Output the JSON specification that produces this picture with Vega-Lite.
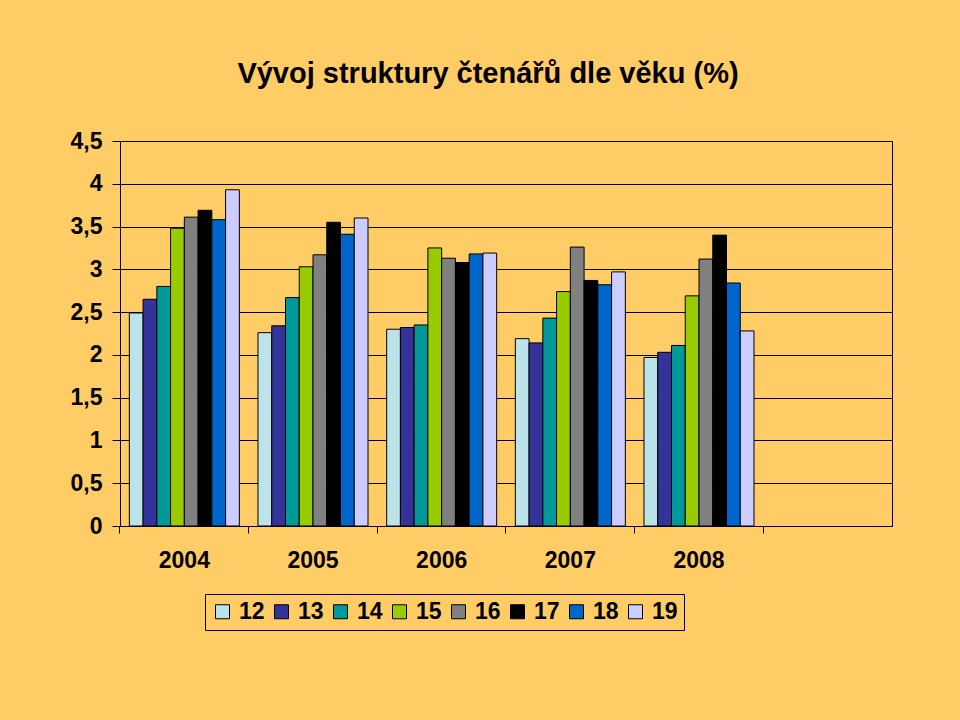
{
  "$schema": "https://vega.github.io/schema/vega-lite/v6.json",
  "autosize": {"type": "none"},
  "width": 772,
  "height": 385,
  "padding": {"left": 120, "top": 141, "right": 68, "bottom": 194},
  "background": "#FFCC66",
  "config": {
    "font": "Liberation Sans",
    "view": {"stroke": "#000000", "strokeWidth": 1}
  },
  "title": {
    "text": "Vývoj struktury čtenářů dle věku (%)",
    "font": "Liberation Sans",
    "fontSize": 29,
    "fontWeight": "bold",
    "color": "#000000",
    "anchor": "middle",
    "frame": "group",
    "dx": -18,
    "offset": 41
  },
  "data": {
    "values": [
      {"year": "2004", "age": "12", "value": 2.49},
      {"year": "2004", "age": "13", "value": 2.65},
      {"year": "2004", "age": "14", "value": 2.80},
      {"year": "2004", "age": "15", "value": 3.48},
      {"year": "2004", "age": "16", "value": 3.61},
      {"year": "2004", "age": "17", "value": 3.69},
      {"year": "2004", "age": "18", "value": 3.58},
      {"year": "2004", "age": "19", "value": 3.93},
      {"year": "2005", "age": "12", "value": 2.26},
      {"year": "2005", "age": "13", "value": 2.34},
      {"year": "2005", "age": "14", "value": 2.67},
      {"year": "2005", "age": "15", "value": 3.03},
      {"year": "2005", "age": "16", "value": 3.17},
      {"year": "2005", "age": "17", "value": 3.55},
      {"year": "2005", "age": "18", "value": 3.41},
      {"year": "2005", "age": "19", "value": 3.60},
      {"year": "2006", "age": "12", "value": 2.30},
      {"year": "2006", "age": "13", "value": 2.32},
      {"year": "2006", "age": "14", "value": 2.35},
      {"year": "2006", "age": "15", "value": 3.25},
      {"year": "2006", "age": "16", "value": 3.13},
      {"year": "2006", "age": "17", "value": 3.08},
      {"year": "2006", "age": "18", "value": 3.18},
      {"year": "2006", "age": "19", "value": 3.19},
      {"year": "2007", "age": "12", "value": 2.19},
      {"year": "2007", "age": "13", "value": 2.14},
      {"year": "2007", "age": "14", "value": 2.43},
      {"year": "2007", "age": "15", "value": 2.74},
      {"year": "2007", "age": "16", "value": 3.26},
      {"year": "2007", "age": "17", "value": 2.87},
      {"year": "2007", "age": "18", "value": 2.82},
      {"year": "2007", "age": "19", "value": 2.97},
      {"year": "2008", "age": "12", "value": 1.97},
      {"year": "2008", "age": "13", "value": 2.03},
      {"year": "2008", "age": "14", "value": 2.11},
      {"year": "2008", "age": "15", "value": 2.69},
      {"year": "2008", "age": "16", "value": 3.12},
      {"year": "2008", "age": "17", "value": 3.40},
      {"year": "2008", "age": "18", "value": 2.84},
      {"year": "2008", "age": "19", "value": 2.28}
    ]
  },
  "mark": {"type": "bar", "stroke": "#000000", "strokeWidth": 1},
  "encoding": {
    "x": {
      "field": "year",
      "type": "nominal",
      "scale": {
        "domain": ["2004", "2005", "2006", "2007", "2008", " "],
        "paddingInner": 0.145,
        "paddingOuter": 0.0725
      },
      "axis": {
        "title": null,
        "labelAngle": 0,
        "labelFont": "Liberation Sans",
        "labelFontSize": 23,
        "labelFontWeight": "bold",
        "labelColor": "#000000",
        "labelPadding": 16,
        "bandPosition": -0.0848,
        "tickSize": 7,
        "tickColor": "#000000",
        "domainColor": "#000000",
        "grid": false
      }
    },
    "xOffset": {
      "field": "age",
      "type": "nominal",
      "scale": {"paddingInner": 0, "paddingOuter": 0}
    },
    "y": {
      "field": "value",
      "type": "quantitative",
      "scale": {"domain": [0, 4.5], "nice": false},
      "axis": {
        "title": null,
        "values": [0, 0.5, 1, 1.5, 2, 2.5, 3, 3.5, 4, 4.5],
        "labelExpr": "replace(toString(datum.value), '.', ',')",
        "labelFont": "Liberation Sans",
        "labelFontSize": 23,
        "labelFontWeight": "bold",
        "labelColor": "#000000",
        "labelPadding": 10,
        "tickSize": 8,
        "tickColor": "#000000",
        "domainColor": "#000000",
        "grid": true,
        "gridColor": "#000000",
        "gridOpacity": 1,
        "gridWidth": 1
      }
    },
    "color": {
      "field": "age",
      "type": "nominal",
      "scale": {
        "domain": ["12", "13", "14", "15", "16", "17", "18", "19"],
        "range": ["#BDE3EA", "#333399", "#009999", "#99CC00", "#808080", "#000000", "#0066CC", "#CCCCFF"]
      },
      "legend": {
        "title": null,
        "orient": "none",
        "legendX": 85,
        "legendY": 453,
        "direction": "horizontal",
        "symbolType": "square",
        "symbolSize": 196,
        "symbolStrokeColor": "#000000",
        "symbolStrokeWidth": 1,
        "symbolOpacity": 1,
        "labelFont": "Liberation Sans",
        "labelFontSize": 23,
        "labelFontWeight": "bold",
        "labelColor": "#000000",
        "labelOffset": 5,
        "columnPadding": 5,
        "padding": 6,
        "strokeColor": "#000000"
      }
    }
  }
}
